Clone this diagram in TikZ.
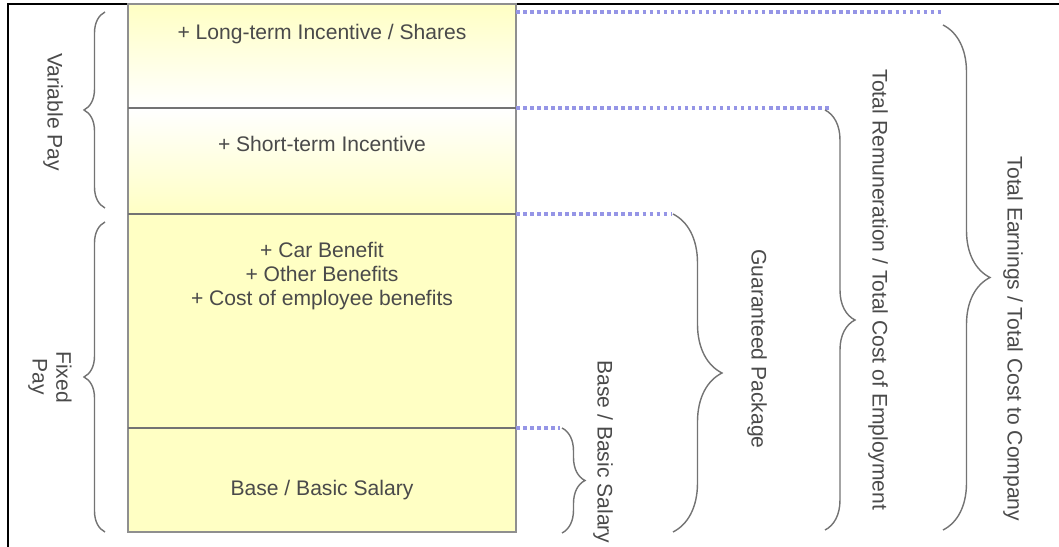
\documentclass[tikz,border=0pt]{standalone}
\usepackage{fontspec}
\setmainfont{Liberation Sans}
\usetikzlibrary{positioning, calc}
\usetikzlibrary{decorations.pathreplacing}
\definecolor{payyellow}{HTML}{FFFFC4}
\definecolor{paytext}{HTML}{4A4A4A}
\definecolor{paydots}{HTML}{9595E6}
\definecolor{paygrey}{HTML}{737373}

\begin{document}
\begin{tikzpicture}[x=0.02cm, y=-0.02cm,
  label/.style={text=paytext, font=\fontsize{12}{13.6}\selectfont, align=center, inner sep=0pt},
  side/.style={label, rotate=-90},
  lead/.style={paydots, line width=1.8pt, dash pattern=on 2pt off 2pt},
  curly/.style={paygrey, line width=0.8pt, decorate, decoration={brace, amplitude=#1}}]

  \useasboundingbox (0,0) rectangle (1059,547);

  % Frame
  \draw[line width=1.4pt] (8,547) -- (8,4) -- (1059,4);

  % Pay blocks
  \shade[top color=payyellow, bottom color=white] (128,4) rectangle (516,108);
  \shade[top color=white, bottom color=payyellow] (128,108) rectangle (516,214);
  \shade[top color=payyellow, middle color=white, bottom color=payyellow] (128,214) rectangle (516,428);
  \shade[top color=payyellow, middle color=white, bottom color=payyellow] (128,428) rectangle (516,532);
  \draw[paygrey!80, line width=0.9pt] (128,4) rectangle (516,532);
  \foreach \y in {108,214,428}
    \draw[paygrey, line width=1pt] (128,\y) -- (516,\y);

  \node[label] (lti) at (322,34) {+ Long-term Incentive / Shares};
  \node[label] (sti) at (322,144) {+ Short-term Incentive};
  \node[label] (ben) at (322,276) {+ Car Benefit\\+ Other Benefits\\+ Cost of employee benefits};
  \node[label] (base) at (322,490) {Base / Basic Salary};

  % Dotted leaders
  \coordinate (e1) at (942,12);
  \coordinate (e2) at (830,108);
  \coordinate (e3) at (672,214);
  \coordinate (e4) at (560,428);
  \draw[lead] (516,12) -- (e1);
  \draw[lead] (516,108) -- (e2);
  \draw[lead] (516,214) -- (e3);
  \draw[lead] (516,428) -- (e4);

  % Left braces
  \draw[curly=0.42cm] (105,208) -- (105,12);
  \draw[curly=0.42cm] (105,532) -- (105,222);
  \node[side] (var) at (53,112) {Variable Pay};
  \node[side] (fix) at (50,377) {Fixed\\Pay};

  % Right braces
  \draw[curly=0.46cm] (562,428) -- (562,533);
  \draw[curly=0.98cm] (673,214) -- (673,532);
  \draw[curly=0.6cm] (825,110) -- (825,530);
  \draw[curly=0.94cm] (943,25) -- (943,530);
  \node[side] (bsal) at (603,452) {Base / Basic Salary};
  \node[side] (gp) at (757,349) {Guaranteed Package};
  \node[side] (trem) at (878,290) {Total Remuneration / Total Cost of Employment};
  \node[side] (tern) at (1013,339) {Total Earnings / Total Cost to Company};
\end{tikzpicture}
\end{document}
